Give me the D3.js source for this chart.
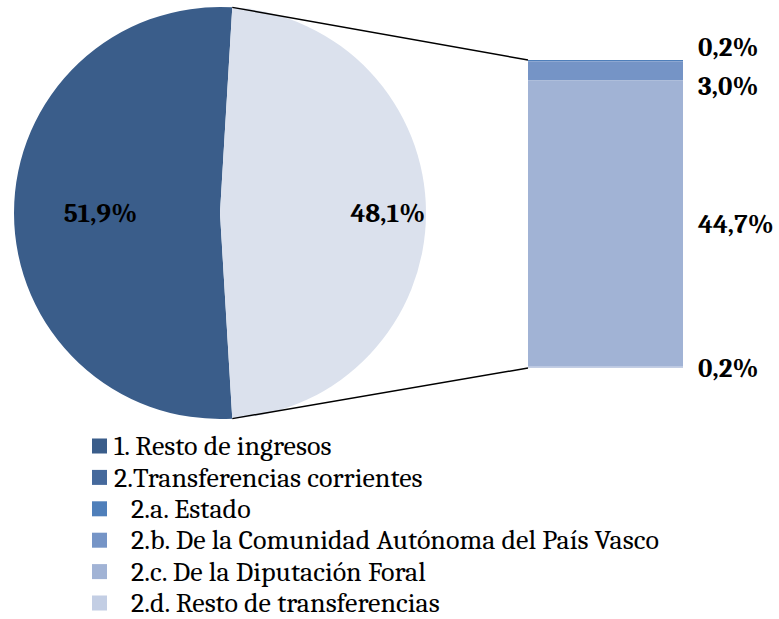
<!DOCTYPE html>
<html>
<head>
<meta charset="utf-8">
<script src="https://cdn.jsdelivr.net/npm/d3@7"></script>
<style>
  body { margin: 0; background: #fff; }
  svg text { font-family: Cambria, "Liberation Serif", "DejaVu Serif", serif; }
</style>
</head>
<body>
<div id="chart"></div>
<script>
// pie: main split of income
var pieLabels = ["1. Resto de ingresos", "2.Transferencias corrientes"];
var pieValues = [51.9, 48.1];
var pieText = ["51,9%", "48,1%"];

// bar: breakdown of transfers (top to bottom)
var barLabels = ["2.a. Estado", "2.b. De la Comunidad Autónoma del País Vasco",
                 "2.c. De la Diputación Foral", "2.d. Resto de transferencias"];
var barValues = [0.2, 3.0, 44.7, 0.2];
var barText = ["0,2%", "3,0%", "44,7%", "0,2%"];

var legendLabels = pieLabels.concat(barLabels);
var legendColors = ["#3a5d8a", "#45699c", "#4f7fba", "#7594c6", "#a1b3d5", "#c3cee4"];
var pieColors = ["#3a5d8a", "#dbe1ed"];
var barColors = ["#4f7fba", "#7594c6", "#a1b3d5", "#c3cee4"];

var width = 779, height = 619;
var svg = d3.select("#chart").append("svg")
    .attr("width", width)
    .attr("height", height);

// ---- pie ----
var cx = 220, cy = 213, r = 206;
var transShare = pieValues[1] / d3.sum(pieValues);
// put the transfers slice centred on the right side
var start = Math.PI / 2 + transShare * Math.PI;
var pie = d3.pie().sort(null)
    .startAngle(start)
    .endAngle(start + 2 * Math.PI)
    .value(function(d) { return d; });
var arcs = pie(pieValues);
var arc = d3.arc().innerRadius(0).outerRadius(r);

var g = svg.append("g").attr("transform", "translate(" + cx + "," + cy + ")");
g.selectAll("path.slice")
    .data(arcs)
    .enter().append("path")
    .attr("class", "slice")
    .attr("d", arc)
    .attr("fill", function(d, i) { return pieColors[i]; });

var labelRadius = [0.58, 0.815];
g.selectAll("text.plabel")
    .data(arcs)
    .enter().append("text")
    .attr("class", "plabel")
    .attr("transform", function(d, i) {
        var a = (d.startAngle + d.endAngle) / 2;
        var rr = r * labelRadius[i];
        return "translate(" + (rr * Math.sin(a)) + "," + (-rr * Math.cos(a)) + ")";
    })
    .attr("text-anchor", "middle")
    .attr("dy", "0.35em")
    .style("font-size", "27px")
    .style("font-weight", "bold")
    .text(function(d, i) { return pieText[i]; });

// ---- bar of pie ----
var barX = 528, barW = 155, barTop = 60, barBottom = 368;
var y = d3.scaleLinear()
    .domain([0, d3.sum(barValues)])
    .range([barBottom, barTop]);

// stack from the bottom (last item) up
var segs = [];
var acc = 0;
for (var i = barValues.length - 1; i >= 0; i--) {
    segs[i] = { y0: acc, y1: acc + barValues[i], i: i };
    acc += barValues[i];
}

// connector lines from slice edge to the bar
var tArc = arcs[1];
function edge(a) { return [cx + r * Math.sin(a), cy - r * Math.cos(a)]; }
var p1 = edge(tArc.startAngle), p2 = edge(tArc.endAngle);
svg.append("line")
    .attr("x1", p1[0]).attr("y1", p1[1])
    .attr("x2", barX).attr("y2", y(acc))
    .attr("stroke", "#000").attr("stroke-width", 1.5);
svg.append("line")
    .attr("x1", p2[0]).attr("y1", p2[1])
    .attr("x2", barX).attr("y2", y(0))
    .attr("stroke", "#000").attr("stroke-width", 1.5);

svg.selectAll("rect.seg")
    .data(segs)
    .enter().append("rect")
    .attr("class", "seg")
    .attr("x", barX)
    .attr("width", barW)
    .attr("y", function(d) { return y(d.y1); })
    .attr("height", function(d) { return y(d.y0) - y(d.y1); })
    .attr("fill", function(d) { return barColors[d.i]; });

// label positions: segment centres, pushed apart when they overlap
var ly = segs.map(function(d) { return (y(d.y0) + y(d.y1)) / 2; });
var minGap = 39;
for (var k = 0; k < 10; k++) {
    for (var j = 0; j < ly.length - 1; j++) {
        var gap = ly[j + 1] - ly[j];
        if (gap < minGap) {
            var shift = (minGap - gap) / 2;
            ly[j] -= shift;
            ly[j + 1] += shift;
        }
    }
}
svg.selectAll("text.blabel")
    .data(barText)
    .enter().append("text")
    .attr("class", "blabel")
    .attr("x", barX + barW + 15)
    .attr("y", function(d, i) { return ly[i]; })
    .attr("dy", "0.35em")
    .style("font-size", "27px")
    .style("font-weight", "bold")
    .text(function(d) { return d; });

// ---- legend ----
var legend = svg.append("g").attr("transform", "translate(92,446)");
var rowH = 31.4;
var item = legend.selectAll("g.item")
    .data(legendLabels)
    .enter().append("g")
    .attr("class", "item")
    .attr("transform", function(d, i) { return "translate(0," + (i * rowH) + ")"; });
item.append("rect")
    .attr("x", 0).attr("y", -7.5)
    .attr("width", 15).attr("height", 15)
    .attr("fill", function(d, i) { return legendColors[i]; });
item.append("text")
    .attr("x", function(d, i) { return i < 2 ? 22 : 39; })
    .attr("dy", "0.33em")
    .style("font-size", "28px")
    .style("fill", "#000")
    .text(function(d) { return d; });
</script>
</body>
</html>
